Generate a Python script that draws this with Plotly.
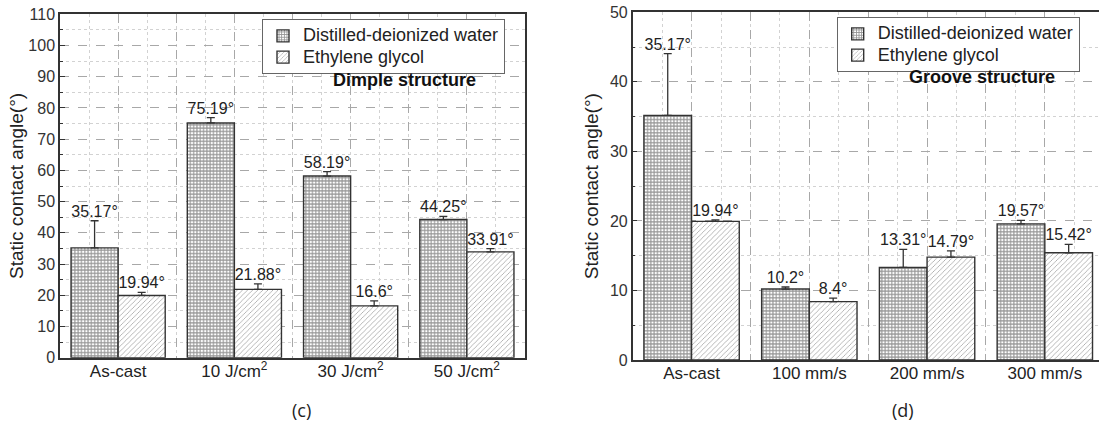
import plotly.graph_objects as go

# ---- data -------------------------------------------------------------
dimple_cats = ["As-cast", "10 J/cm<sup>2</sup>", "30 J/cm<sup>2</sup>", "50 J/cm<sup>2</sup>"]
dimple_water = [35.17, 75.19, 58.19, 44.25]
dimple_water_err = [8.7, 1.7, 1.4, 1.0]
dimple_glycol = [19.94, 21.88, 16.6, 33.91]
dimple_glycol_err = [1.0, 1.8, 1.6, 1.0]

groove_cats = ["As-cast", "100 mm/s", "200 mm/s", "300 mm/s"]
groove_water = [35.17, 10.2, 13.31, 19.57]
groove_water_err = [8.9, 0.3, 2.6, 0.5]
groove_glycol = [19.94, 8.4, 14.79, 15.42]
groove_glycol_err = [0.2, 0.5, 0.9, 1.2]

series_names = ["Distilled-deionized water", "Ethylene glycol"]

# ---- style ------------------------------------------------------------
W, H = 1099, 425
FONT = "Liberation Sans"
TXT = "#222222"
AX = "#333333"
BARGAP = 0.19
HALF = (1 - BARGAP) / 2  # width of one bar in a group of two

water_pattern = dict(shape="+", size=3.3, solidity=0.55, fgcolor="#2a2a2a", bgcolor="white", fillmode="overlay")
glycol_pattern = dict(shape="/", size=3.6, solidity=0.22, fgcolor="#4a4a4a", bgcolor="white", fillmode="overlay")

fig = go.Figure()


def add_panel(fig, cats, water, water_err, glycol, glycol_err, xa, ya, legend):
    pos = list(range(len(cats)))
    for vals, errs, pattern, name, shift in (
        (water, water_err, water_pattern, series_names[0], -HALF / 2),
        (glycol, glycol_err, glycol_pattern, series_names[1], HALF / 2),
    ):
        fig.add_trace(go.Bar(
            x=pos, y=vals, name=f"<span style='font-size:18px'>{name}</span>",
            xaxis=xa, yaxis=ya, legend=legend,
            marker=dict(color="white", pattern=pattern, line=dict(color=AX, width=1.4)),
            offsetgroup=name,
            error_y=dict(type="data", symmetric=False, array=errs, arrayminus=[0] * len(errs),
                         color=AX, thickness=1.3, width=4),
        ))
        fig.add_trace(go.Scatter(
            x=[p + shift for p in pos], y=[v + e for v, e in zip(vals, errs)],
            mode="text", text=[f"{v:g}°" for v in vals], textposition="top center",
            textfont=dict(size=16, color=TXT, family=FONT),
            xaxis=xa, yaxis=ya, showlegend=False, hoverinfo="skip", cliponaxis=False,
        ))


add_panel(fig, dimple_cats, dimple_water, dimple_water_err, dimple_glycol, dimple_glycol_err, "x", "y", "legend")
add_panel(fig, groove_cats, groove_water, groove_water_err, groove_glycol, groove_glycol_err, "x2", "y2", "legend2")


def xaxis_cfg(cats, domain, rng, anchor):
    vals, text = [], []
    for i, c in enumerate(cats):
        vals.append(i)
        text.append(c)
        if i < len(cats) - 1:
            vals.append(i + 0.5)
            text.append("")
    return dict(
        domain=domain, range=rng, anchor=anchor, automargin=False,
        tickmode="array", tickvals=vals, ticktext=text, ticklabelstandoff=-3,
        showline=True, linecolor=AX, linewidth=1.5, mirror=True, ticks="",
        showgrid=True, gridcolor="#a8a8a8", griddash="dash", gridwidth=1,
        minor=dict(tickmode="linear", tick0=0, dtick=0.25, showgrid=True,
                   gridcolor="#d2d2d2", griddash="dot", gridwidth=1, ticks=""),
        tickfont=dict(size=17, color=TXT, family=FONT), zeroline=False, fixedrange=True,
    )


def yaxis_cfg(domain, rng, dtick, mirror, anchor, title_std):
    return dict(
        domain=domain, range=rng, dtick=dtick, tick0=0, anchor=anchor, automargin=False,
        showline=True, linecolor=AX, linewidth=1.5, mirror=mirror,
        ticks="inside", ticklen=5, tickcolor=AX, tickwidth=1,
        showgrid=True, gridcolor="#a8a8a8", griddash="dash", gridwidth=1,
        minor=dict(dtick=dtick / 2, tick0=0, showgrid=True, gridcolor="#d2d2d2", griddash="dot",
                   gridwidth=1, ticks="inside", ticklen=3, tickcolor=AX),
        tickfont=dict(size=16, color=AX, family=FONT), zeroline=False,
        title=dict(text="Static contact angle(°)", font=dict(size=19, color=TXT, family=FONT), standoff=title_std),
        fixedrange=True,
    )


legend_style = dict(xanchor="left", yanchor="top", bordercolor="#666", borderwidth=1, bgcolor="white",
                    font=dict(size=14, color=TXT, family=FONT), tracegroupgap=0)

fig.update_layout(
    width=W, height=H, autosize=False,
    margin=dict(l=0, r=0, t=0, b=0, pad=0, autoexpand=False),
    paper_bgcolor="white", plot_bgcolor="white",
    barmode="group", bargap=BARGAP, bargroupgap=0,
    font=dict(family=FONT, color=TXT),
    xaxis=xaxis_cfg(dimple_cats, [60 / W, 525 / W], [-0.5, 3.5], "y"),
    yaxis=yaxis_cfg([1 - 357.7 / H, 1 - 14.3 / H], [0, 110], 10, True, "x", 0),
    xaxis2=xaxis_cfg(groove_cats, [632.7 / W, 1.0], [-0.5, 3.46], "y2"),
    yaxis2=yaxis_cfg([1 - 360 / H, 1 - 12.3 / H], [0, 50], 10, False, "x2", 6),
    legend=dict(x=262 / W, y=1 - 19.3 / H, **legend_style),
    legend2=dict(x=836.7 / W, y=1 - 17.3 / H, **legend_style),
    showlegend=True,
    annotations=[
        dict(text="<b>Dimple structure</b>", x=404.7 / W, y=1 - 80 / H, xref="paper", yref="paper",
             xanchor="center", yanchor="middle", showarrow=False, font=dict(size=18, color="#111", family=FONT)),
        dict(text="<b>Groove structure</b>", x=981.8 / W, y=1 - 76.7 / H, xref="paper", yref="paper",
             xanchor="center", yanchor="middle", showarrow=False, font=dict(size=18, color="#111", family=FONT)),
        dict(text="(c)", x=301 / W, y=1 - 410 / H, xref="paper", yref="paper",
             xanchor="center", yanchor="middle", showarrow=False, font=dict(size=18, color=TXT, family="Open Sans")),
        dict(text="(d)", x=902.5 / W, y=1 - 410 / H, xref="paper", yref="paper",
             xanchor="center", yanchor="middle", showarrow=False, font=dict(size=18, color=TXT, family="Open Sans")),
    ],
)

fig.write_html("out.html")
